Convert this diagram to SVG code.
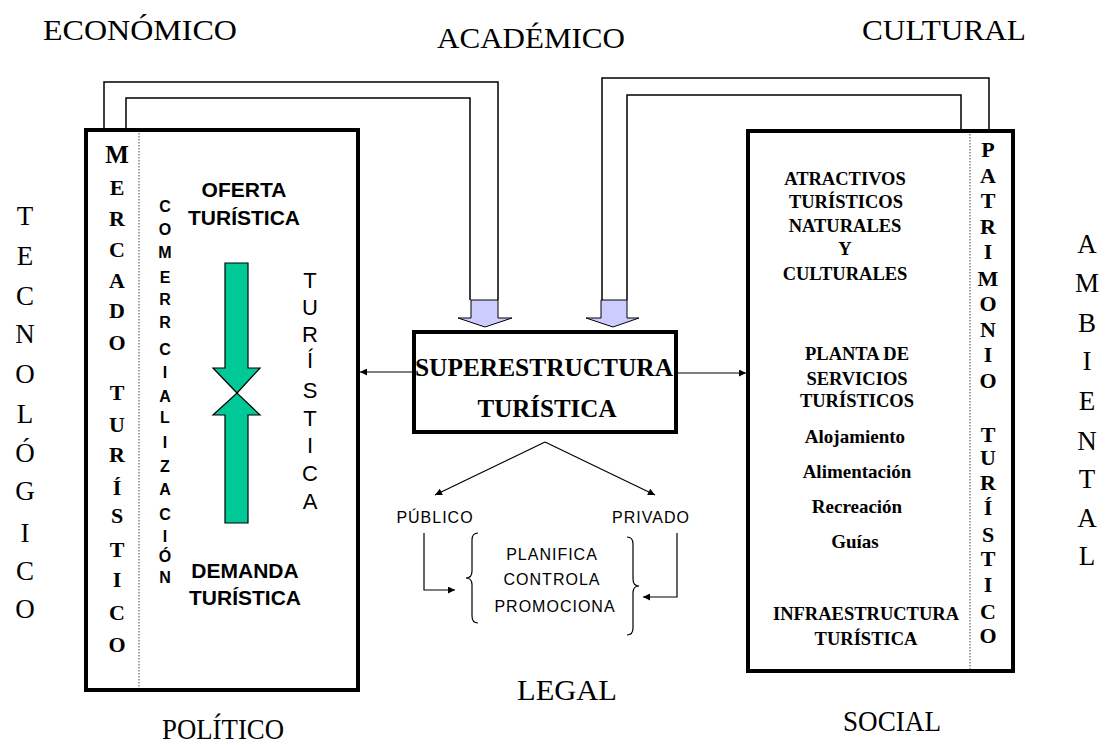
<svg xmlns="http://www.w3.org/2000/svg" width="1107" height="745" viewBox="0 0 1107 745">
<style>
.lbl{font-family:"Liberation Serif","Times New Roman",serif;font-size:30px;text-anchor:middle;fill:#000}
.side{font-family:"Liberation Serif","Times New Roman",serif;font-size:27px;text-anchor:middle;fill:#000}
.vb{font-family:"Liberation Serif","Times New Roman",serif;font-weight:bold;font-size:22px;text-anchor:middle;fill:#000}
.bs{font-family:"Liberation Serif","Times New Roman",serif;font-weight:bold;text-anchor:middle;fill:#000}
.sb{font-family:"Liberation Sans",Arial,sans-serif;font-weight:bold;text-anchor:middle;fill:#000}
.sn{font-family:"Liberation Sans",Arial,sans-serif;text-anchor:middle;fill:#000}
.box{fill:#fff;stroke:#000;stroke-width:4}
.ln{fill:none;stroke:#000;stroke-width:1.5}
.thin{fill:none;stroke:#000;stroke-width:1.2}
.dot{stroke:#444;stroke-width:1;stroke-dasharray:1.5 1.5}
.blk{fill:#ccccff;stroke:#000;stroke-width:1}
.grn{fill:#00c896;stroke:#000;stroke-width:1.2}
</style>
<defs>
<marker id="ah" viewBox="0 0 10 10" refX="10" refY="5" markerWidth="9" markerHeight="7" markerUnits="userSpaceOnUse" orient="auto">
<path d="M0,0 L10,5 L0,10 z" fill="#000"/>
</marker>
</defs>
<rect width="1107" height="745" fill="#fff"/>

<g id="labels">
<text class="lbl" x="140" y="40" textLength="194" lengthAdjust="spacingAndGlyphs">ECONÓMICO</text>
<text class="lbl" x="531" y="48" textLength="188" lengthAdjust="spacingAndGlyphs">ACADÉMICO</text>
<text class="lbl" x="944" y="40" textLength="164" lengthAdjust="spacingAndGlyphs">CULTURAL</text>
<text class="lbl" x="567" y="700" textLength="100" lengthAdjust="spacingAndGlyphs">LEGAL</text>
<text class="lbl" x="223" y="739" font-size="28" textLength="122" lengthAdjust="spacingAndGlyphs">POLÍTICO</text>
<text class="lbl" x="892" y="731" font-size="28" textLength="98" lengthAdjust="spacingAndGlyphs">SOCIAL</text>
<text class="side"><tspan x="25" y="225">T</tspan><tspan x="25" y="265">E</tspan><tspan x="25" y="305">C</tspan><tspan x="25" y="343">N</tspan><tspan x="25" y="383">O</tspan><tspan x="25" y="423">L</tspan><tspan x="25" y="462">Ó</tspan><tspan x="25" y="500">G</tspan><tspan x="25" y="542">I</tspan><tspan x="25" y="580">C</tspan><tspan x="25" y="618">O</tspan></text>
<text class="side"><tspan x="1087" y="253">A</tspan><tspan x="1087" y="292">M</tspan><tspan x="1087" y="332">B</tspan><tspan x="1087" y="370">I</tspan><tspan x="1087" y="410">E</tspan><tspan x="1087" y="450">N</tspan><tspan x="1087" y="488">T</tspan><tspan x="1087" y="527">A</tspan><tspan x="1087" y="565">L</tspan></text>
</g>

<g id="connectors">
<polyline class="ln" points="104,128 104,82 498,82 498,300"/>
<polyline class="ln" points="126,128 126,98 470,98 470,300"/>
<polyline class="ln" points="602,300 602,78 989,78 989,129"/>
<polyline class="ln" points="627,300 627,95 961,95 961,129"/>
<polygon class="blk" points="471,300 498,300 498,318 512,318 485,327 458,318 471,318"/>
<polygon class="blk" points="601,300 627,300 627,318 639,318 613,327 586,318 601,318"/>
<line class="thin" x1="413" y1="372" x2="360" y2="372" marker-end="url(#ah)"/>
<line class="thin" x1="677" y1="373" x2="746" y2="373" marker-end="url(#ah)"/>
<line class="thin" x1="545" y1="442" x2="435" y2="495" marker-end="url(#ah)"/>
<line class="thin" x1="545" y1="442" x2="655" y2="495" marker-end="url(#ah)"/>
<polyline class="thin" points="424,533 424,590 455,590" marker-end="url(#ah)"/>
<polyline class="thin" points="677,533 677,597 643,597" marker-end="url(#ah)"/>
</g>

<g id="mercado">
<rect class="box" x="86" y="130" width="272" height="560"/>
<line class="dot" x1="139" y1="133" x2="139" y2="688"/>
<text class="vb"><tspan x="117" y="163" font-size="25">M</tspan><tspan x="117" y="195">E</tspan><tspan x="117" y="226">R</tspan><tspan x="117" y="257">C</tspan><tspan x="117" y="288">A</tspan><tspan x="117" y="318">D</tspan><tspan x="117" y="350">O</tspan><tspan x="117" y="400">T</tspan><tspan x="117" y="432">U</tspan><tspan x="117" y="462">R</tspan><tspan x="117" y="495">Í</tspan><tspan x="117" y="523">S</tspan><tspan x="117" y="557">T</tspan><tspan x="117" y="587">I</tspan><tspan x="117" y="620">C</tspan><tspan x="117" y="652">O</tspan></text>
<text class="sb" font-size="16"><tspan x="165" y="212">C</tspan><tspan x="165" y="235">O</tspan><tspan x="165" y="258">M</tspan><tspan x="165" y="283">E</tspan><tspan x="165" y="305">R</tspan><tspan x="165" y="328">R</tspan><tspan x="165" y="355">C</tspan><tspan x="165" y="378">I</tspan><tspan x="165" y="402">A</tspan><tspan x="165" y="423">L</tspan><tspan x="165" y="448">I</tspan><tspan x="165" y="472">Z</tspan><tspan x="165" y="495">A</tspan><tspan x="165" y="520">C</tspan><tspan x="165" y="542">I</tspan><tspan x="165" y="562">Ó</tspan><tspan x="165" y="583">N</tspan></text>
<text class="sb" font-size="21"><tspan x="244" y="197">OFERTA</tspan><tspan x="244" y="225">TURÍSTICA</tspan></text>
<text class="sb" font-size="21"><tspan x="245" y="578">DEMANDA</tspan><tspan x="245" y="605">TURÍSTICA</tspan></text>
<text class="sn" font-size="22"><tspan x="310" y="288">T</tspan><tspan x="310" y="315">U</tspan><tspan x="310" y="342">R</tspan><tspan x="310" y="368">Í</tspan><tspan x="310" y="398">S</tspan><tspan x="310" y="426">T</tspan><tspan x="310" y="453">I</tspan><tspan x="310" y="481">C</tspan><tspan x="310" y="509">A</tspan></text>
<polygon class="grn" points="225,263 248,263 248,368 260,368 237,393 213,368 225,368"/>
<polygon class="grn" points="225,523 248,523 248,415 260,415 237,393 213,415 225,415"/>
</g>

<g id="superestructura">
<rect class="box" x="414" y="332" width="262" height="100"/>
<text class="bs" font-size="25" x="544" y="376" textLength="258" lengthAdjust="spacingAndGlyphs">SUPERESTRUCTURA</text>
<text class="bs" font-size="25" x="547" y="417">TURÍSTICA</text>
</g>

<g id="sectores">
<text class="sn" font-size="16" letter-spacing="1" x="435" y="523">PÚBLICO</text>
<text class="sn" font-size="16" letter-spacing="1" x="651" y="523">PRIVADO</text>
<path class="thin" d="M478,533 Q472,533 472,540 L472,571 Q472,578 466,578 Q472,578 472,585 L472,616 Q472,623 478,623"/>
<path class="thin" d="M627,537 Q633,537 633,544 L633,579 Q633,586 639,586 Q633,586 633,593 L633,628 Q633,635 627,635"/>
<text class="sn" font-size="16" letter-spacing="1"><tspan x="552" y="560">PLANIFICA</tspan><tspan x="552" y="585">CONTROLA</tspan><tspan x="555" y="612">PROMOCIONA</tspan></text>
</g>

<g id="patrimonio">
<rect class="box" x="748" y="131" width="265" height="540"/>
<line class="dot" x1="970" y1="134" x2="970" y2="669"/>
<text class="bs" font-size="18.5"><tspan x="845" y="185">ATRACTIVOS</tspan><tspan x="846" y="208">TURÍSTICOS</tspan><tspan x="845" y="232">NATURALES</tspan><tspan x="845" y="255">Y</tspan><tspan x="845" y="280">CULTURALES</tspan></text>
<text class="bs" font-size="18.5"><tspan x="857" y="360">PLANTA  DE</tspan><tspan x="857" y="385">SERVICIOS</tspan><tspan x="857" y="407">TURÍSTICOS</tspan></text>
<text class="bs" font-size="19"><tspan x="855" y="443">Alojamiento</tspan><tspan x="857" y="478">Alimentación</tspan><tspan x="857" y="513">Recreación</tspan><tspan x="855" y="548">Guías</tspan></text>
<text class="bs" font-size="18.5"><tspan x="866" y="620">INFRAESTRUCTURA</tspan><tspan x="866" y="645">TURÍSTICA</tspan></text>
<text class="vb" font-size="20"><tspan x="988" y="157">P</tspan><tspan x="988" y="183">A</tspan><tspan x="988" y="208">T</tspan><tspan x="988" y="234">R</tspan><tspan x="988" y="259">I</tspan><tspan x="988" y="286">M</tspan><tspan x="988" y="311">O</tspan><tspan x="988" y="337">N</tspan><tspan x="988" y="362">I</tspan><tspan x="988" y="388">O</tspan><tspan x="988" y="442">T</tspan><tspan x="988" y="465">U</tspan><tspan x="988" y="490">R</tspan><tspan x="988" y="515">Í</tspan><tspan x="988" y="542">S</tspan><tspan x="988" y="566">T</tspan><tspan x="988" y="592">I</tspan><tspan x="988" y="619">C</tspan><tspan x="988" y="643">O</tspan></text>
</g>
</svg>
